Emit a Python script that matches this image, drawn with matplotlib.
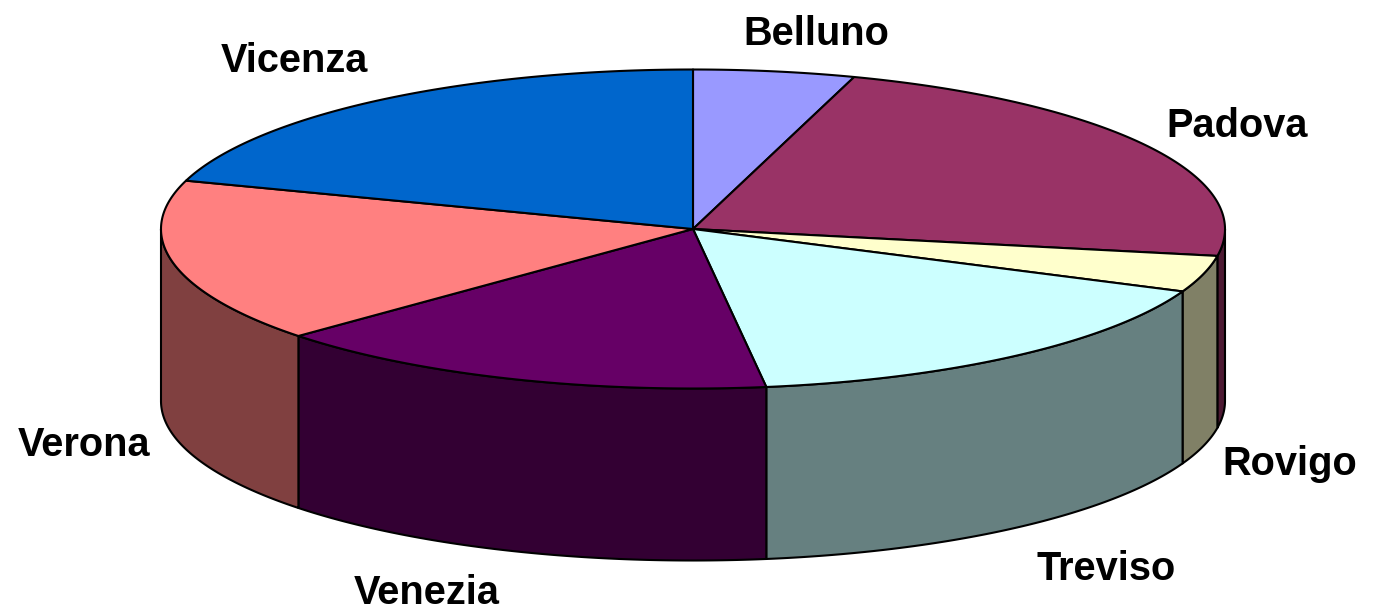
import numpy as np
from matplotlib import pyplot as plt

# provinces, clockwise from 12 o'clock
provinces = ['Belluno', 'Padova', 'Rovigo', 'Treviso', 'Venezia', 'Verona', 'Vicenza']
shares = [4.9, 22.8, 3.7, 16.4, 15.5, 16.6, 20.1]

top_colors = ['#9999FF', '#993366', '#FFFFCC', '#CCFFFF', '#660066', '#FF8080', '#0066CC']
side_colors = ['#4D4D80', '#4D1A33', '#808066', '#668080', '#330033', '#804040', '#003366']
label_pos = [(816, 34), (1237, 126), (1290, 464), (1106, 569), (427, 593), (84, 445), (294, 61)]

cx, cy = 693, 229
rx, ry = 532, 159.5
depth = 172


def ellipse(a1, a2, dy=0):
    # angles in degrees, clockwise from the top
    t = np.radians(np.linspace(a1, a2, 200))
    return cx + rx * np.sin(t), cy - ry * np.cos(t) + dy


fig = plt.figure(figsize=(13.77, 6.11), dpi=100)
ax = fig.add_axes([0, 0, 1, 1])
ax.set_xlim(0, 1377)
ax.set_ylim(611, 0)
ax.axis('off')

edges = 360 * np.cumsum([0] + shares) / sum(shares)

# side walls, only the front half of the cake shows
for i in range(len(shares)):
    a1 = max(edges[i], 90)
    a2 = min(edges[i + 1], 270)
    if a2 <= a1:
        continue
    x, y = ellipse(a1, a2)
    xb, yb = ellipse(a2, a1, depth)
    ax.fill(np.r_[x, xb], np.r_[y, yb], facecolor=side_colors[i],
            edgecolor='black', lw=1.5, joinstyle='round')

# top of the cake
for i in range(len(shares)):
    x, y = ellipse(edges[i], edges[i + 1])
    ax.fill(np.r_[cx, x], np.r_[cy, y], facecolor=top_colors[i],
            edgecolor='black', lw=1.5, joinstyle='round')

for name, pos in zip(provinces, label_pos):
    ax.text(pos[0], pos[1], name, ha='center', va='center', fontsize=28.6,
            fontweight='bold', family='Liberation Sans', color='black')

fig.savefig('out.png', dpi=100)
